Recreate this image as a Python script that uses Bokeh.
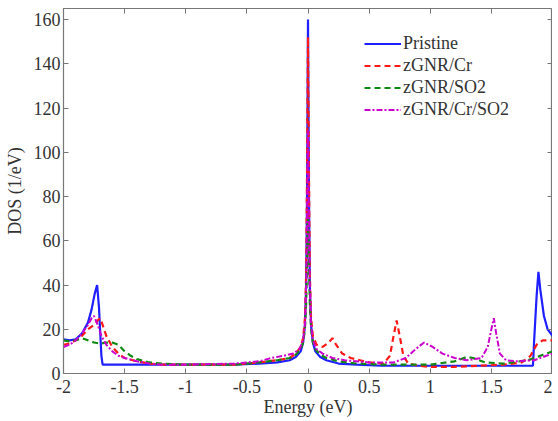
from bokeh.plotting import figure
from bokeh.models import LinearAxis, Range1d, FixedTicker, Legend, LegendItem
from bokeh.embed import file_html
from bokeh.resources import INLINE

# ---- data ----
E_pr = [-2.0, -1.95, -1.9, -1.85, -1.8, -1.77, -1.745, -1.725, -1.71, -1.69, -1.68, -1.5, -1.0, -0.6, -0.4, -0.25, -0.15, -0.1, -0.06, -0.04, -0.025, -0.015, -0.008, 0.0, 0.008, 0.015, 0.025, 0.04, 0.06, 0.1, 0.15, 0.25, 0.4, 0.6, 1.0, 1.5, 1.84, 1.85, 1.87, 1.885, 1.9, 1.93, 1.96, 2.0]
DOS_pr = [15.5, 15, 15.5, 18, 23, 29, 36, 40, 30, 8, 4, 4, 4, 4, 4.5, 5, 6, 7.5, 10, 14, 22, 40, 80, 160, 80, 40, 22, 14, 10, 7.5, 6, 4.5, 4, 3.5, 3.5, 3.5, 3.5, 15, 35, 46, 38, 26, 20, 17]

E_cr = [-2.0, -1.95, -1.9, -1.85, -1.8, -1.75, -1.72, -1.70, -1.68, -1.65, -1.6, -1.55, -1.5, -1.4, -1.3, -1.2, -1.0, -0.6, -0.4, -0.25, -0.15, -0.1, -0.06, -0.04, -0.025, -0.015, -0.008, 0.0, 0.008, 0.015, 0.025, 0.04, 0.07, 0.12, 0.17, 0.2, 0.23, 0.28, 0.35, 0.5, 0.62, 0.67, 0.7, 0.725, 0.75, 0.78, 0.82, 0.9, 1.0, 1.2, 1.4, 1.6, 1.75, 1.82, 1.87, 1.92, 2.0]
DOS_cr = [13, 13.5, 15, 17, 20, 22, 24, 25, 22, 17, 12, 9, 7, 5.5, 4.5, 4, 4, 4, 5, 6, 7, 9, 12, 16, 25, 45, 90, 152, 90, 45, 25, 17, 13, 12, 14, 16, 13, 9, 7, 5, 4.5, 8, 17, 24, 17, 8, 4.5, 3.5, 3, 3, 3.5, 4, 5, 8, 13, 15, 15]

E_so = [-2.0, -1.95, -1.9, -1.85, -1.8, -1.75, -1.7, -1.65, -1.6, -1.55, -1.5, -1.45, -1.4, -1.3, -1.2, -1.0, -0.6, -0.4, -0.25, -0.15, -0.1, -0.06, -0.04, -0.025, -0.015, -0.008, 0.0, 0.008, 0.015, 0.025, 0.04, 0.06, 0.1, 0.15, 0.25, 0.4, 0.6, 0.8, 1.0, 1.2, 1.3, 1.35, 1.45, 1.6, 1.8, 1.9, 2.0]
DOS_so = [15, 14.5, 15, 16, 15, 14, 13.5, 14, 14, 13, 10, 8, 6.5, 5, 4.5, 4, 4, 5, 6, 7, 8.5, 11, 14, 20, 32, 50, 70, 50, 32, 20, 14, 11, 8.5, 7, 5.5, 4.5, 4, 4, 4, 5.5, 7.5, 7, 5, 4.5, 6, 8, 10]

E_cs = [-2.0, -1.95, -1.9, -1.85, -1.8, -1.77, -1.75, -1.72, -1.69, -1.65, -1.6, -1.55, -1.5, -1.4, -1.3, -1.2, -1.0, -0.6, -0.4, -0.3, -0.2, -0.12, -0.07, -0.04, -0.025, -0.015, -0.008, 0.0, 0.008, 0.015, 0.025, 0.04, 0.07, 0.12, 0.2, 0.3, 0.5, 0.7, 0.8, 0.88, 0.95, 1.02, 1.1, 1.2, 1.3, 1.42, 1.47, 1.5, 1.52, 1.54, 1.57, 1.62, 1.7, 1.85, 1.95, 2.0]
DOS_cs = [12, 13, 15, 18, 22, 25, 26, 22, 17, 13, 10, 8, 7, 5.5, 4.5, 4, 4, 4.5, 5.5, 7, 8, 9, 11, 15, 22, 40, 70, 110, 70, 40, 22, 15, 11, 9, 7, 6, 5, 5, 7, 11, 14, 12, 9, 7, 6, 7, 12, 20, 25, 18, 9, 6, 5.5, 6, 8, 9]

series_names = ["Pristine", "zGNR/Cr", "zGNR/SO2", "zGNR/Cr/SO2"]
x_ticks = [-2, -1.5, -1, -0.5, 0, 0.5, 1, 1.5, 2]
x_tick_labels = ["-2", "-1.5", "-1", "-0.5", "0", "0.5", "1", "1.5", "2"]
y_ticks = [0, 20, 40, 60, 80, 100, 120, 140, 160]

FONT = "Liberation Serif"
TXT = "#333333"
AX = "#777777"
FS = "18px"

p = figure(width=552, height=419, output_backend="svg", toolbar_location=None,
           x_range=Range1d(-2, 2), y_range=Range1d(0, 165),
           x_axis_label="Energy (eV)", y_axis_label="DOS (1/eV)",
           min_border_left=63, min_border_right=0, min_border_top=8, min_border_bottom=46)
p.grid.visible = False
p.outline_line_color = AX
p.outline_line_width = 1.2
p.background_fill_color = "white"
p.border_fill_color = "white"

for ax in p.axis:
    ax.axis_line_color = AX
    ax.major_tick_line_color = AX
    ax.major_tick_in = 5
    ax.major_tick_out = 0
    ax.minor_tick_line_color = None
    ax.major_label_text_font = FONT
    ax.major_label_text_font_size = FS
    ax.major_label_text_color = TXT
    ax.axis_label_text_font = FONT
    ax.axis_label_text_font_size = FS
    ax.axis_label_text_font_style = "normal"
    ax.axis_label_text_color = TXT

p.xaxis.ticker = FixedTicker(ticks=x_ticks)
p.xaxis.major_label_overrides = {t: l for t, l in zip(x_ticks, x_tick_labels)}
p.xaxis.major_label_standoff = 6
p.xaxis.axis_label_standoff = 1
p.yaxis.ticker = FixedTicker(ticks=y_ticks)
p.yaxis.major_label_standoff = 3
p.yaxis.axis_label_standoff = 6

for side in ("above", "right"):
    ticks = x_ticks if side == "above" else y_ticks
    a = LinearAxis(ticker=FixedTicker(ticks=ticks))
    a.axis_line_color = None
    a.major_tick_line_color = AX
    a.major_tick_in = 5
    a.major_tick_out = 0
    a.minor_tick_line_color = None
    a.major_label_overrides = {t: "" for t in ticks}
    a.major_label_text_font_size = "1px"
    a.major_label_standoff = 0
    p.add_layout(a, side)

r1 = p.line(E_pr, DOS_pr, line_color="#1f1fff", line_width=2.2)
r2 = p.line(E_cr, DOS_cr, line_color="#ff1a1a", line_width=2.2, line_dash="6 4")
r3 = p.line(E_so, DOS_so, line_color="#118811", line_width=2.2, line_dash="6 4")
r4 = p.line(E_cs, DOS_cs, line_color="#cc00cc", line_width=2.0, line_dash="6 2 2 2")

legend = Legend(items=[LegendItem(label=n, renderers=[r]) for n, r in zip(series_names, [r1, r2, r3, r4])],
                location=(301, 253))
legend.border_line_color = None
legend.background_fill_alpha = 0
legend.padding = 0
legend.spacing = 1
legend.label_height = 21
legend.glyph_height = 21
legend.glyph_width = 37
legend.label_standoff = 2
legend.label_text_font = FONT
legend.label_text_font_size = FS
legend.label_text_color = TXT
p.add_layout(legend, "center")

open("out.html", "w").write(file_html(p, INLINE))
